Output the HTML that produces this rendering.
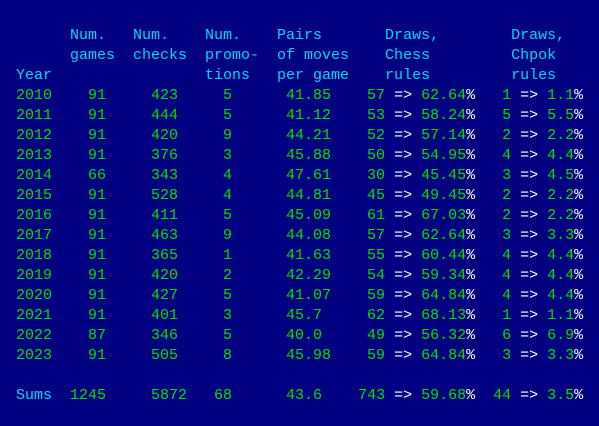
<!DOCTYPE html>
<html><head><meta charset="utf-8"><style>
html,body{margin:0;padding:0;background:#000080;width:599px;height:426px;overflow:hidden}
pre{position:absolute;left:16px;top:26px;margin:0;font-family:"Liberation Mono",monospace;font-size:15px;line-height:20px;color:#00e000;white-space:pre}
.h{color:#00d8f0}.w{color:#ffffff}
</style></head><body>
<pre id="t"></pre>
<script>
const years=["2010","2011","2012","2013","2014","2015","2016","2017","2018","2019","2020","2021","2022","2023"];
const games=[91,91,91,91,66,91,91,91,91,91,91,91,87,91];
const checks=[423,444,420,376,343,528,411,463,365,420,427,401,346,505];
const promos=[5,5,9,3,4,4,5,9,1,2,5,3,5,8];
const pairs=["41.85","41.12","44.21","45.88","47.61","44.81","45.09","44.08","41.63","42.29","41.07","45.7","40.0","45.98"];
const chessDraws=[57,53,52,50,30,45,61,57,55,54,59,62,49,59];
const chessPct=["62.64","58.24","57.14","54.95","45.45","49.45","67.03","62.64","60.44","59.34","64.84","68.13","56.32","64.84"];
const chpokDraws=[1,5,2,4,3,2,2,3,4,4,4,1,6,3];
const chpokPct=["1.1","5.5","2.2","4.4","4.5","2.2","2.2","3.3","4.4","4.4","4.4","1.1","6.9","3.3"];
const sums=["1245","5872","68","43.6","743","59.68","44","3.5"];
const W='<span class="w">=&gt;</span>',P='<span class="w">%</span>';
function row(y,g,c,p,pr,d1,p1,d2,p2){
 return y.padEnd(4)+String(g).padStart(6)+String(c).padStart(8)+String(p).padStart(6)+"      "+pr.padEnd(5)+String(d1).padStart(6)+" "+W+" "+p1+P+String(d2).padStart(4)+" "+W+" "+p2+P;
}
let s='<span class="h">      Num.   Num.    Num.    Pairs       Draws,        Draws,\n      games  checks  promo-  of moves    Chess         Chpok\nYear                 tions   per game    rules         rules</span>\n';
for(let i=0;i<years.length;i++){s+=row(years[i],games[i],checks[i],promos[i],pairs[i],chessDraws[i],chessPct[i],chpokDraws[i],chpokPct[i])+"\n";}
s+="\n<span class=\"h\">Sums</span>  "+sums[0].padEnd(4)+"     "+sums[1]+"   "+sums[2].padEnd(2)+"      "+sums[3].padEnd(5)+sums[4].padStart(6)+" "+W+" "+sums[5]+P+sums[6].padStart(4)+" "+W+" "+sums[7]+P;
document.getElementById('t').innerHTML=s;
</script>
</body></html>
